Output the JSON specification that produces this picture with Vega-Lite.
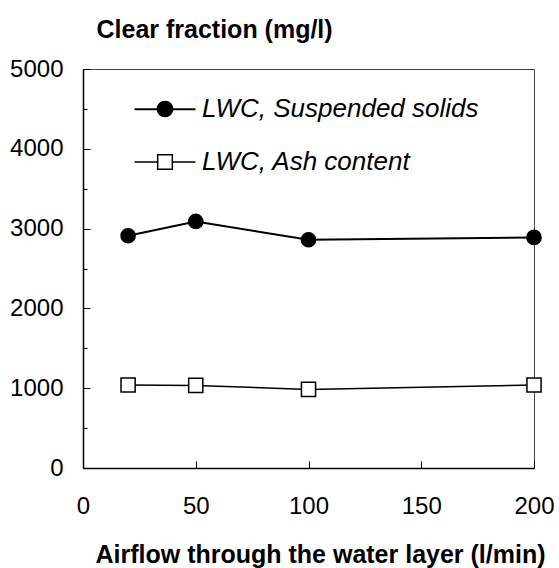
{
  "$schema": "https://vega.github.io/schema/vega-lite/v6.json",
  "width": 451,
  "height": 399,
  "autosize": {"type": "none"},
  "padding": {"left": 83, "top": 69, "right": 25, "bottom": 100},
  "background": "white",
  "config": {
    "view": {"stroke": "#444", "strokeWidth": 1},
    "font": "Liberation Sans",
    "axis": {
      "domainColor": "black", "domainWidth": 1.5,
      "tickColor": "black", "tickWidth": 1,
      "labelFont": "Liberation Sans", "labelFontSize": 24, "labelColor": "black",
      "titleFont": "Liberation Sans", "titleFontSize": 25, "titleFontWeight": "bold", "titleColor": "black",
      "grid": false
    }
  },
  "data": {
    "values": [
      {"airflow": 20, "value": 2910, "series": "LWC, Suspended solids"},
      {"airflow": 50, "value": 3090, "series": "LWC, Suspended solids"},
      {"airflow": 100, "value": 2860, "series": "LWC, Suspended solids"},
      {"airflow": 200, "value": 2890, "series": "LWC, Suspended solids"},
      {"airflow": 20, "value": 1040, "series": "LWC, Ash content"},
      {"airflow": 50, "value": 1035, "series": "LWC, Ash content"},
      {"airflow": 100, "value": 985, "series": "LWC, Ash content"},
      {"airflow": 200, "value": 1040, "series": "LWC, Ash content"}
    ]
  },
  "encoding": {
    "x": {
      "field": "airflow", "type": "quantitative",
      "scale": {"domain": [0, 200], "nice": false},
      "axis": {
        "values": [0, 50, 100, 150, 200],
        "tickSize": -7,
        "labelPadding": 33,
        "labelFlush": false,
        "title": "Airflow through the water layer (l/min)",
        "titleX": 237, "titleY": 94, "titleBaseline": "alphabetic"
      }
    },
    "y": {
      "field": "value", "type": "quantitative",
      "scale": {"domain": [0, 5000], "nice": false},
      "axis": {
        "values": [0, 500, 1000, 1500, 2000, 2500, 3000, 3500, 4000, 4500, 5000],
        "format": "d",
        "labelExpr": "datum.value % 1000 === 0 ? datum.label : ''",
        "tickSize": {"condition": {"test": "datum.value % 1000 === 0", "value": -7}, "value": -4},
        "labelPadding": 27,
        "labelFlush": false,
        "labelOverlap": false,
        "title": "Clear fraction (mg/l)",
        "titleAngle": 0, "titleAlign": "left", "titleBaseline": "alphabetic",
        "titleX": 13, "titleY": -32
      }
    }
  },
  "resolve": {"scale": {"shape": "independent", "fill": "independent", "strokeWidth": "independent"}},
  "layer": [
    {
      "mark": {"type": "line", "color": "black"},
      "encoding": {
        "strokeWidth": {
          "field": "series", "type": "nominal",
          "scale": {"range": [1.5, 2]},
          "legend": null
        }
      }
    },
    {
      "mark": {"type": "point", "filled": true, "opacity": 1, "stroke": "black", "strokeWidth": 1.5, "size": 200},
      "encoding": {
        "fill": {
          "field": "series", "type": "nominal",
          "scale": {"range": ["white", "black"]},
          "legend": null
        },
        "shape": {
          "field": "series", "type": "nominal",
          "scale": {"range": ["square", "circle"]},
          "legend": null
        }
      }
    },
    {
      "transform": [{"filter": "false"}],
      "mark": {"type": "point", "filled": false, "stroke": "black", "strokeWidth": 1.5, "opacity": 1},
      "encoding": {
        "shape": {
          "field": "series", "type": "nominal",
          "scale": {
            "domain": ["LWC, Suspended solids", "LWC, Ash content"],
            "range": [
              "M-2,0H-0.5M0.5,0H2M-2,0.03H-0.5M0.5,0.03H2M-0.5,0A0.5,0.5,0,1,0,0.5,0A0.5,0.5,0,1,0,-0.5,0M-0.41,0A0.41,0.41,0,1,0,0.41,0A0.41,0.41,0,1,0,-0.41,0M-0.32,0A0.32,0.32,0,1,0,0.32,0A0.32,0.32,0,1,0,-0.32,0M-0.23,0A0.23,0.23,0,1,0,0.23,0A0.23,0.23,0,1,0,-0.23,0M-0.14,0A0.14,0.14,0,1,0,0.14,0A0.14,0.14,0,1,0,-0.14,0M-0.05,0A0.05,0.05,0,1,0,0.05,0A0.05,0.05,0,1,0,-0.05,0",
              "M-2,0H-0.48M0.48,0H2M-0.48,-0.48H0.48V0.48H-0.48Z"
            ]
          },
          "legend": {
            "orient": "none", "legendX": 66, "legendY": 24,
            "title": null,
            "padding": 0,
            "symbolSize": 930,
            "symbolFillColor": "transparent",
            "symbolStrokeColor": "black",
            "symbolStrokeWidth": 1.5,
            "symbolOpacity": 1,
            "labelOffset": 21,
            "labelFont": "Liberation Sans", "labelFontSize": 26, "labelFontStyle": "italic", "labelColor": "black",
            "labelLimit": 400,
            "rowPadding": 24
          }
        }
      }
    }
  ]
}
